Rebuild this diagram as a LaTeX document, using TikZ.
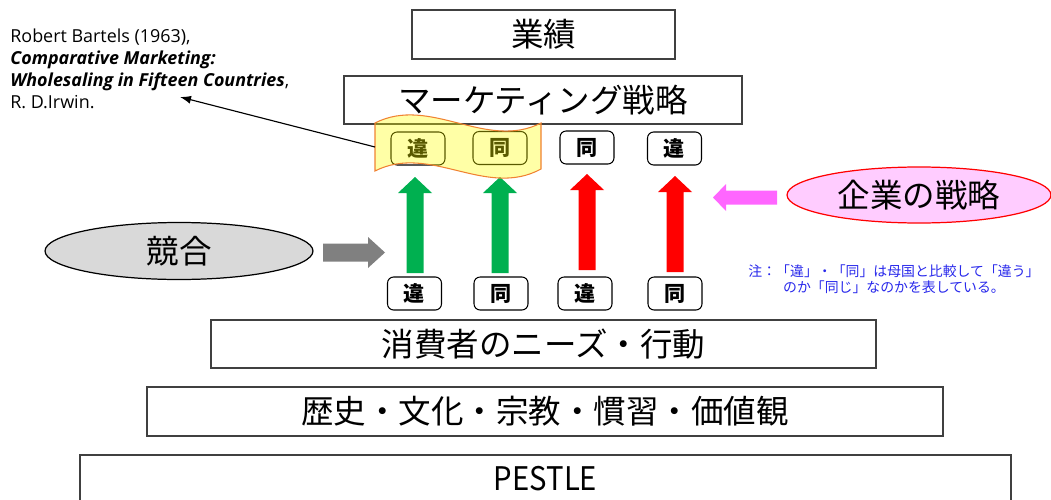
\documentclass[tikz,border=0pt]{standalone}
\usepackage{fontspec}
\setmainfont{Open Sans}
\newfontfamily\jp{Noto Sans CJK JP}
\usetikzlibrary{shapes.geometric,arrows.meta}
\definecolor{boxline}{RGB}{64,64,64}
\definecolor{arrgreen}{RGB}{0,176,80}
\definecolor{arrred}{RGB}{255,0,0}
\definecolor{arrgray}{RGB}{128,128,128}
\definecolor{arrpink}{RGB}{255,102,255}
\definecolor{ellgray}{RGB}{217,217,217}
\definecolor{ellpink}{RGB}{255,204,255}
\definecolor{noteblue}{RGB}{40,40,235}
\definecolor{wavefill}{RGB}{255,255,0}
\definecolor{waveline}{RGB}{240,130,50}
\tikzset{
  uparr/.pic={\fill (-8.5,0) -- (-8.5,-80) -- (-17,-80) -- (0,-96) -- (17,-80) -- (8.5,-80) -- (8.5,0) -- cycle;}
}
\begin{document}
\begin{tikzpicture}[x=0.02cm,y=-0.02cm,
  layerbox/.style={draw=boxline, line width=0.7pt, fill=white, rectangle, inner sep=0pt,
    font=\jp\fontsize{18.5}{22}\selectfont},
  tagbox/.style={draw=black, line width=0.6pt, fill=white, rounded corners=3.5pt,
    minimum width=1.08cm, minimum height=0.66cm, inner sep=0pt,
    font=\jp\bfseries\fontsize{12}{14}\selectfont},
  bigell/.style={ellipse, line width=0.7pt, inner sep=0pt, font=\jp\fontsize{18.5}{22}\selectfont},
  notetext/.style={text=noteblue, align=center, inner sep=0pt, font=\jp\fontsize{7.9}{9.1}\selectfont},
  citetext/.style={anchor=north west, align=left, inner sep=0pt, font=\fontsize{10.2}{12.5}\selectfont},
  wave/.style={fill=wavefill, fill opacity=0.35, draw=waveline, draw opacity=1, line width=0.6pt},
  citearrow/.style={-{Latex[length=2.2mm,width=1.6mm]}, line width=0.65pt, black}
]
\useasboundingbox (0,0) rectangle (1051,500);

% layered boxes
\node[layerbox, minimum width=5.26cm, minimum height=0.98cm] (perf) at (543.5,34.5) {業績};
\node[layerbox, minimum width=7.96cm, minimum height=0.96cm] (mkt) at (543,100) {マーケティング戦略};
\node[layerbox, minimum width=13.3cm, minimum height=0.96cm] (needs) at (543.5,344) {消費者のニーズ・行動};
\node[layerbox, minimum width=15.92cm, minimum height=0.98cm] (culture) at (545,411.5) {歴史・文化・宗教・慣習・価値観};
\node[layerbox, minimum width=18.62cm, minimum height=0.96cm] (pestle) at (545.5,479) {\scalebox{0.9}[1]{PESTLE}};

% upward arrows
\pic[fill=arrgreen] at (415,273) {uparr};
\pic[fill=arrgreen] at (500,273) {uparr};
\pic[fill=arrred] at (587,270) {uparr};
\pic[fill=arrred] at (675,272) {uparr};

% top tags
\node[tagbox] (t1) at (418,148.5) {違};
\node[tagbox] (t2) at (500,148) {同};
\node[tagbox] (t3) at (587,147.5) {同};
\node[tagbox] (t4) at (674.5,148.5) {違};

% bottom tags
\node[tagbox] (b1) at (414.5,293.5) {違};
\node[tagbox] (b2) at (501,293.5) {同};
\node[tagbox] (b3) at (585,293.5) {違};
\node[tagbox] (b4) at (675,293.5) {同};

% yellow wave flag over first two tags
\path[wave] (375,123) .. controls (430,95) and (486,151) .. (541,123)
  -- (541,169) .. controls (486,199) and (430,143) .. (375,171) -- cycle;
\coordinate (flagL) at (375,147);

% competition ellipse and gray arrow
\node[bigell, draw=black, fill=ellgray, minimum width=5.36cm, minimum height=1.14cm] (comp) at (179,251) {競合};
\fill[arrgray] (323,243.5) -- (368,243.5) -- (368,237) -- (385,252.5) -- (368,268) -- (368,261.5) -- (323,261.5) -- cycle;

% company strategy ellipse and pink arrow
\node[bigell, draw=red, fill=ellpink, minimum width=5.28cm, minimum height=1.12cm] (corp) at (919,195) {企業の戦略};
\fill[arrpink] (777,190.5) -- (726,190.5) -- (726,184) -- (713,197.5) -- (726,211) -- (726,204.5) -- (777,204.5) -- cycle;

% note
\node[notetext] (note) at (894,279.5) {注：「違」・「同」は母国と比較して「違う」\\のか「同じ」なのかを表している。};

% citation
\node[citetext] (cite) at (10,29) {Robert Bartels (1963),\\
\textbf{\textit{Comparative Marketing:}}\\
\textbf{\textit{Wholesaling in Fifteen Countries}},\\
R. D.Irwin.};
\coordinate (citeTip) at (180,97);
\draw[citearrow] (flagL) -- (citeTip);
\end{tikzpicture}
\end{document}
